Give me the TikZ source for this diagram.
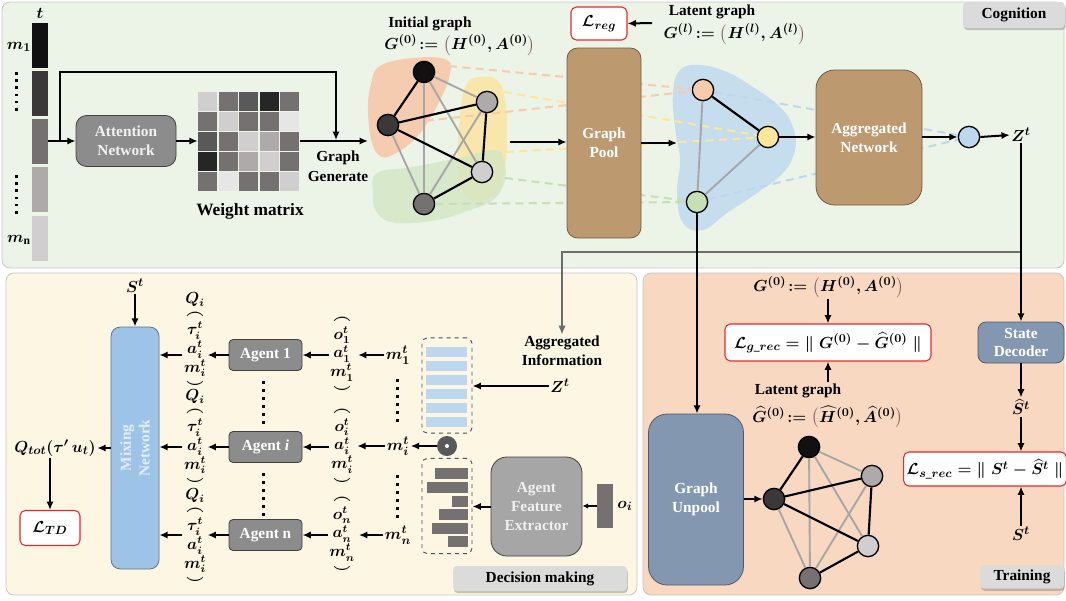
\documentclass[tikz,border=0pt]{standalone}
\usepackage{amsmath,amssymb}
\usepackage{graphicx}
\usepackage{fontspec}
\setmainfont{Liberation Serif}
\usepackage{tikz}
\usetikzlibrary{arrows.meta,positioning,fit,shadows}

\definecolor{cogbg}{RGB}{236,244,231}
\definecolor{decbg}{RGB}{253,246,226}
\definecolor{trnbg}{RGB}{248,216,192}
\definecolor{poolbrown}{RGB}{189,153,111}
\definecolor{mixblue}{RGB}{157,195,230}
\definecolor{mixtext}{RGB}{226,237,248}
\definecolor{slate}{RGB}{132,151,176}
\definecolor{agentgray}{RGB}{140,140,140}
\definecolor{featgray}{RGB}{166,166,166}
\definecolor{gA}{RGB}{17,17,17}
\definecolor{gB}{RGB}{59,56,56}
\definecolor{gC}{RGB}{118,113,113}
\definecolor{gD}{RGB}{174,170,170}
\definecolor{gE}{RGB}{208,206,206}
\definecolor{gF}{RGB}{231,230,230}
\definecolor{gG}{RGB}{89,89,89}
\definecolor{gH}{RGB}{38,38,38}
\definecolor{nodeorange}{RGB}{248,203,173}
\definecolor{nodeyellow}{RGB}{255,230,153}
\definecolor{nodegreen}{RGB}{197,224,180}
\definecolor{nodeblue}{RGB}{189,215,238}
\definecolor{bloborange}{RGB}{247,200,170}
\definecolor{blobyellow}{RGB}{252,228,160}
\definecolor{blobgreen}{RGB}{212,229,195}
\definecolor{blobblue}{RGB}{197,221,236}
\definecolor{navy}{RGB}{68,84,106}
\definecolor{parcol}{RGB}{125,100,100}
\definecolor{lossred}{RGB}{235,40,40}

\newcommand{\lpar}{\mathopen{\color{parcol}\big(}}
\newcommand{\rpar}{\mathclose{\color{parcol}\big)}}
\newcommand{\tupopen}{$\frown$}
\newcommand{\tupclose}{$\smile$}
\newcommand{\lbltext}{\fontsize{11.5}{14}\selectfont\bfseries}
\newcommand{\lblmath}{\fontsize{12.5}{15}\selectfont\bfseries}

\begin{document}
\boldmath
\begin{tikzpicture}[x=0.75pt,y=-0.75pt]
\tikzset{
  arr/.style={-{Latex[length=2.2mm,width=1.9mm]}, line width=1.5pt},
  grayarr/.style={-{Latex[length=2.4mm,width=2mm]}, line width=1.8pt, draw=gray!85!black},
  panel/.style={draw=gray!45, line width=0.6pt, rounded corners=6pt},
  tab/.style={fill=gray!28, rounded corners=3pt, font=\lbltext, inner sep=0pt,
    drop shadow={shadow xshift=0.6pt, shadow yshift=-1.6pt, opacity=0.45}},
  blk/.style={rounded corners=8pt, draw=gray!50!black, line width=0.6pt, align=center,
    font=\lbltext, text=white, inner sep=0pt},
  loss/.style={draw=lossred, fill=white, rounded corners=4pt, line width=0.8pt,
    font=\lblmath, inner sep=0pt},
  lbl/.style={font=\lbltext, align=center, inner sep=1pt},
  mlbl/.style={font=\lblmath, inner sep=1pt},
  tuple/.style={font=\fontsize{11.5}{11.5}\selectfont, align=center, inner sep=1pt},
  bar/.style={minimum width=12pt, minimum height=33.75pt, inner sep=0pt},
  gnode/.style={circle, draw=black, line width=1pt, minimum size=16pt, inner sep=0pt},
  bedge/.style={line width=1.6pt},
  gedge/.style={gray!70, line width=1.4pt},
  flowdash/.style={line width=1.5pt, dash pattern=on 6pt off 4pt},
  featbox/.style={draw=navy, dashed, rounded corners=4pt, line width=0.7pt,
    minimum width=37.5pt, minimum height=71.5pt, inner sep=0pt},
}
\useasboundingbox (0,0) rectangle (1066,600);

\draw[panel, fill=cogbg] (2,2) rectangle (1064,268);
\draw[panel, fill=decbg] (6,273) rectangle (637,595);
\draw[panel, fill=trnbg] (643,273) rectangle (1064,595);

\node[tab, minimum width=76.5pt, minimum height=19.5pt] (cogtab) at (1014,15) {Cognition};
\node[tab, minimum width=130.5pt, minimum height=18.75pt] (dectab) at (540,578.5) {Decision making};
\node[tab, minimum width=63pt, minimum height=17.5pt] (trntab) at (1022,577) {Training};

% message column
\node[mlbl] (tlab) at (40,13) {$t$};
\foreach \c/\y [count=\k] in {gA/45.5,gB/93.5,gC/141,gD/189.5,gE/238.5}
  \node[bar, fill=\c] (bar\k) at (40,\y) {};
\node[mlbl] (m1lab) at (19,47) {$m_1$};
\node[mlbl] (mnlab) at (19,240) {$m_{\mathrm{n}}$};
\foreach \y in {72,79.2,...,108} \fill (15,\y) rectangle ++(2.6,2.6);
\foreach \y in {175,182.2,...,211} \fill (15,\y) rectangle ++(2.6,2.6);

\node[blk, fill=agentgray, text=gray!10, minimum width=75pt, minimum height=38.25pt] (att) at (126,141) {Attention\\Network};

\foreach \row [count=\r] in {{gE,gC,gG,gH,gC},{gC,gE,gC,gC,gF},{gG,gC,gE,gD,gC},{gH,gC,gD,gE,gC},{gC,gF,gC,gC,gE}}
  \foreach \c [count=\q] in \row
    \fill[\c] ({198+(\q-1)*20.6},{91.5+(\r-1)*20.2}) rectangle ++(19,19);
\node[minimum width=76.5pt, minimum height=75pt, inner sep=0pt] (wm) at (249,141) {};
\node[lbl, font=\fontsize{13}{15}\selectfont\bfseries] (wmlab) at (250,211) {Weight matrix};
\node[lbl, font=\fontsize{11.5}{15}\selectfont\bfseries] (genlab) at (338,166) {Graph\\Generate};

\coordinate (split) at (60,141);
\coordinate (skip) at (60,72);
\coordinate (gen) at (336,140);
\coordinate (gin) at (368,141);
\coordinate (gout) at (510,142);

% initial graph
\fill[bloborange, fill opacity=0.9] plot[smooth cycle, tension=0.7] coordinates {(380,66) (413,58) (447,60) (449,78) (440,100) (428,122) (414,140) (396,153) (382,157) (372,143) (368,110) (371,84)};
\fill[blobyellow, fill opacity=0.85] plot[smooth cycle, tension=0.7] coordinates {(480,77) (497,80) (505,100) (507,133) (505,167) (498,190) (483,200) (467,197) (458,177) (458,140) (462,100) (468,82)};
\fill[blobgreen, fill opacity=0.8] plot[smooth cycle, tension=0.7] coordinates {(377,173) (413,167) (463,157) (493,150) (503,157) (505,180) (493,200) (470,210) (437,220) (397,223) (377,213) (373,193)};
\node[lbl] (initlab) at (430,24) {Initial graph};
\node[mlbl] (g0lab) at (460,45) {$G^{(0)}\!:=\lpar H^{(0)},A^{(0)}\rpar$};

\node[gnode, fill=gA] (i1) at (424,72) {};
\node[gnode, fill=gB] (i2) at (388,125) {};
\node[gnode, fill=gD] (i3) at (487,102) {};
\node[gnode, fill=gE] (i4) at (482,172) {};
\node[gnode, fill=gC] (i5) at (424,204) {};

% latent graph
\fill[blobblue] plot[smooth cycle, tension=0.7] coordinates {(680,70) (700,65) (727,72) (753,87) (780,107) (793,127) (795,150) (783,173) (757,193) (727,213) (703,230) (683,223) (677,193) (680,160) (675,127) (673,93)};
\node[lbl] (latlab) at (712,12) {Latent graph};
\node[mlbl] (glab) at (735,34) {$G^{(l)}\!:=\lpar H^{(l)},A^{(l)}\rpar$};
\node[gnode, fill=nodeorange] (l1) at (703,90) {};
\node[gnode, fill=nodeyellow] (l2) at (768,137) {};
\node[gnode, fill=nodegreen] (l3) at (697,202) {};
\node[gnode, fill=nodeblue] (zn) at (969,137) {};
\node[mlbl] (zcog) at (1021,135) {$Z^t$};

\coordinate (ob1) at (449,66);
\coordinate (yb1) at (504,92);
\coordinate (yb2) at (506,152);
\coordinate (gb1) at (505,178);
\coordinate (lin) at (677,143);
\coordinate (latin) at (652,23);
\coordinate (tap) at (1021,252);

\draw[flowdash, nodeorange] (ob1) -- (l1);
\draw[flowdash, nodeorange] (i2) -- (l1);
\draw[flowdash, nodeyellow] (yb1) -- (l2);
\draw[flowdash, nodeyellow] (yb2) -- (l2);
\draw[flowdash, nodegreen] (gb1) -- (l3);
\draw[flowdash, nodegreen] (i5) -- (l3);
\draw[flowdash, nodeblue] (l1) -- (zn);
\draw[flowdash, nodeblue] (l3) -- (zn);

\foreach \a/\b in {1/3,1/5,1/4,2/5,3/5} \draw[gedge] (i\a) -- (i\b);
\foreach \a/\b in {1/2,2/3,2/4,3/4,4/5} \draw[bedge] (i\a) -- (i\b);
\draw[gedge] (l1) -- (l3);
\draw[gedge] (l2) -- (l3);
\draw[bedge] (l1) -- (l2);

\node[blk, fill=poolbrown, draw=poolbrown!60!black, minimum width=55.5pt, minimum height=142.5pt] (pool) at (604,143) {Graph\\Pool};
\node[loss, minimum width=42pt, minimum height=24.75pt] (reg) at (599,23.5) {$\mathcal{L}_{reg}$};
\node[blk, fill=poolbrown, draw=poolbrown!60!black, minimum width=79.5pt, minimum height=101.25pt, rounded corners=14pt] (agg) at (869,137.5) {Aggregated\\Network};

\draw[arr] (bar3.east) -- (att.west);
\draw[arr] (split) -- (skip) -| (gen);
\draw[arr] (att.east) -- (wm.west);
\draw[arr] (wm.east) -- (gin);
\draw[arr] (gout) -- (pool.west |- gout);
\draw[arr] (latin) -- (reg.east);
\draw[arr] (pool.east |- lin) -- (lin);
\draw[arr] (l2) -- (agg.west |- l2);
\draw[arr] (agg.east |- zn) -- (zn.west);
\draw[arr] (zn.east) -- (zcog.west);

% decision making
\node[mlbl] (sdec) at (135,286) {$S^t$};
\node[blk, fill=mixblue, draw=mixblue!60!black, minimum width=36pt, minimum height=181.5pt, rounded corners=7pt] (mix) at (135,448) {};
\node[font=\lbltext, text=mixtext, rotate=90, align=center] (mixlab) at (mix.center) {Mixing\\Network};
\node[mlbl] (qtot) at (55,448) {$Q_{tot}(\tau'\,u_t)$};
\node[loss, minimum width=45pt, minimum height=26.25pt] (td) at (50,528) {$\mathcal{L}_{TD}$};

\foreach \y [count=\k] in {340,437,536}
  \node[tuple] (q\k) at (195,\y) {$Q_i$\\\tupopen\\$\tau_i^t$\\$a_i^t$\\$m_i^t$\\\tupclose};

\node[blk, fill=agentgray, minimum width=54.75pt, minimum height=23.25pt, rounded corners=3pt] (ag1) at (265.5,355) {Agent 1};
\node[blk, fill=agentgray, minimum width=54.75pt, minimum height=23.25pt, rounded corners=3pt] (ag2) at (265.5,447) {Agent \textit{i}};
\node[blk, fill=agentgray, minimum width=54.75pt, minimum height=23.25pt, rounded corners=3pt] (ag3) at (265.5,535) {Agent n};
\foreach \y in {381,389,...,421} \fill (262,\y) rectangle ++(2.6,2.6);
\foreach \y in {473,481,...,513} \fill (262,\y) rectangle ++(2.6,2.6);

\node[tuple] (o1) at (342,355) {\tupopen\\$o_1^t$\\$a_1^t$\\$m_1^t$\\\tupclose};
\node[tuple] (o2) at (342,447) {\tupopen\\$o_i^t$\\$a_i^t$\\$m_i^t$\\\tupclose};
\node[tuple] (o3) at (342,535) {\tupopen\\$o_n^t$\\$a_n^t$\\$m_n^t$\\\tupclose};

\node[mlbl] (mt1) at (398,355) {$m_1^t$};
\node[mlbl] (mt2) at (398,446) {$m_i^t$};
\node[mlbl] (mt3) at (398,535) {$m_n^t$};
\foreach \y in {379,387,...,419} \fill (396,\y) rectangle ++(2.6,2.6);
\foreach \y in {475,483,...,515} \fill (396,\y) rectangle ++(2.6,2.6);

\foreach \k in {1,2,3} {
  \draw[arr] (ag\k.west) -- (q\k.east |- ag\k.west);
  \draw[arr] (q\k.west |- ag\k.west) -- (mix.east |- ag\k.west);
  \draw[arr] (o\k.west |- ag\k.east) -- (ag\k.east);
  \draw[arr, shorten >=2pt] (mt\k.west) -- (o\k.east |- mt\k.west);
}

\node[featbox] (zbox) at (447,385.5) {};
\foreach \k in {0,...,5} \fill[nodeblue] (426,{347+\k*14}) rectangle ++(41,10);
\node[featbox] (fbox) at (447,506) {};
\foreach \x/\y in {435/468,427/482,452/496,439/509,432/523,448/536}
  \fill[gC] (\x,\y) rectangle (468,{\y+10.5});
\node[circle, fill=gG, minimum size=15pt, inner sep=0pt] (odot) at (447,446) {};
\fill[white] (odot.center) circle[radius=1.5pt];

\node[lbl] (agginfo) at (562,351) {Aggregated\\Information};
\node[mlbl] (zdec) at (560,386) {$Z^t$};
\node[blk, fill=featgray, text=gray!12, minimum width=68.25pt, minimum height=74.25pt, rounded corners=12pt] (afe) at (536.5,506.5) {Agent\\Feature\\Extractor};
\node[minimum width=12pt, minimum height=33pt, inner sep=0pt, fill=gC] (obar) at (605,506) {};
\node[mlbl] (oilab) at (625,506) {$o_i$};

\draw[arr] (sdec.south) -- (mix.north);
\draw[arr] (mix.west |- qtot) -- (qtot.east);
\draw[arr] (td.north |- qtot.south) -- (td.north);
\draw[arr] (odot.west) -- (mt2.east);
\draw[arr] (zdec.west) -- (zdec.west -| zbox.east);
\draw[arr] (afe.west) -- (afe.west -| fbox.east);
\draw[-{Latex[length=1.5mm,width=1.4mm]}, line width=1pt] (obar.west) -- (obar.west -| afe.east);

% training
\node[mlbl] (g0t) at (829,287) {$G^{(0)}\!:=\lpar H^{(0)},A^{(0)}\rpar$};
\node[loss, minimum width=154.5pt, minimum height=27.75pt] (grec) at (828,342.5) {$\mathcal{L}_{g\_rec}=\|\;G^{(0)}-\widehat{G}^{(0)}\;\|$};
\node[lbl] (latt) at (798,391) {Latent graph};
\node[mlbl] (ghat) at (828,417) {$\widehat{G}^{(0)}\!:=\lpar\widehat{H}^{(0)},\widehat{A}^{(0)}\rpar$};
\node[blk, fill=slate, draw=slate!60!black, minimum width=71.25pt, minimum height=128.25pt, rounded corners=14pt] (unpool) at (696,499.5) {Graph\\Unpool};

\node[gnode, fill=gA] (r1) at (809,447) {};
\node[gnode, fill=gB] (r2) at (774,499) {};
\node[gnode, fill=gD] (r3) at (872,476) {};
\node[gnode, fill=gE] (r4) at (868,546) {};
\node[gnode, fill=gC] (r5) at (810,578) {};
\foreach \a/\b in {1/3,1/5,1/4,2/5,3/5} \draw[gedge] (r\a) -- (r\b);
\foreach \a/\b in {1/2,2/3,2/4,3/4,4/5} \draw[bedge] (r\a) -- (r\b);

\node[blk, fill=slate, draw=slate!60!black, minimum width=64.5pt, minimum height=30.75pt, rounded corners=6pt] (dec) at (1021,342.5) {State\\Decoder};
\node[mlbl] (shat) at (1021,407) {$\widehat{S}^t$};
\node[loss, minimum width=122pt, minimum height=25.5pt] (srec) at (985,469) {$\mathcal{L}_{s\_rec}=\|\;S^t-\widehat{S}^t\;\|$};
\node[mlbl] (strn) at (1021,534) {$S^t$};

\draw[grayarr] (tap) -| (agginfo.north);
\draw[arr] (zcog.south) -- (zcog.south |- dec.north);
\draw[arr] (l3) -- (l3 |- unpool.north);
\draw[arr] (g0t.south -| grec.north) -- (grec.north);
\draw[arr] (grec.south |- latt.north) -- (grec.south);
\draw[arr] (unpool.east |- r2) -- (r2.west);
\draw[arr] (dec.south) -- (shat.north);
\draw[arr] (shat.south) -- (shat.south |- srec.north);
\draw[arr] (strn.north) -- (strn.north |- srec.south);
\end{tikzpicture}
\end{document}
